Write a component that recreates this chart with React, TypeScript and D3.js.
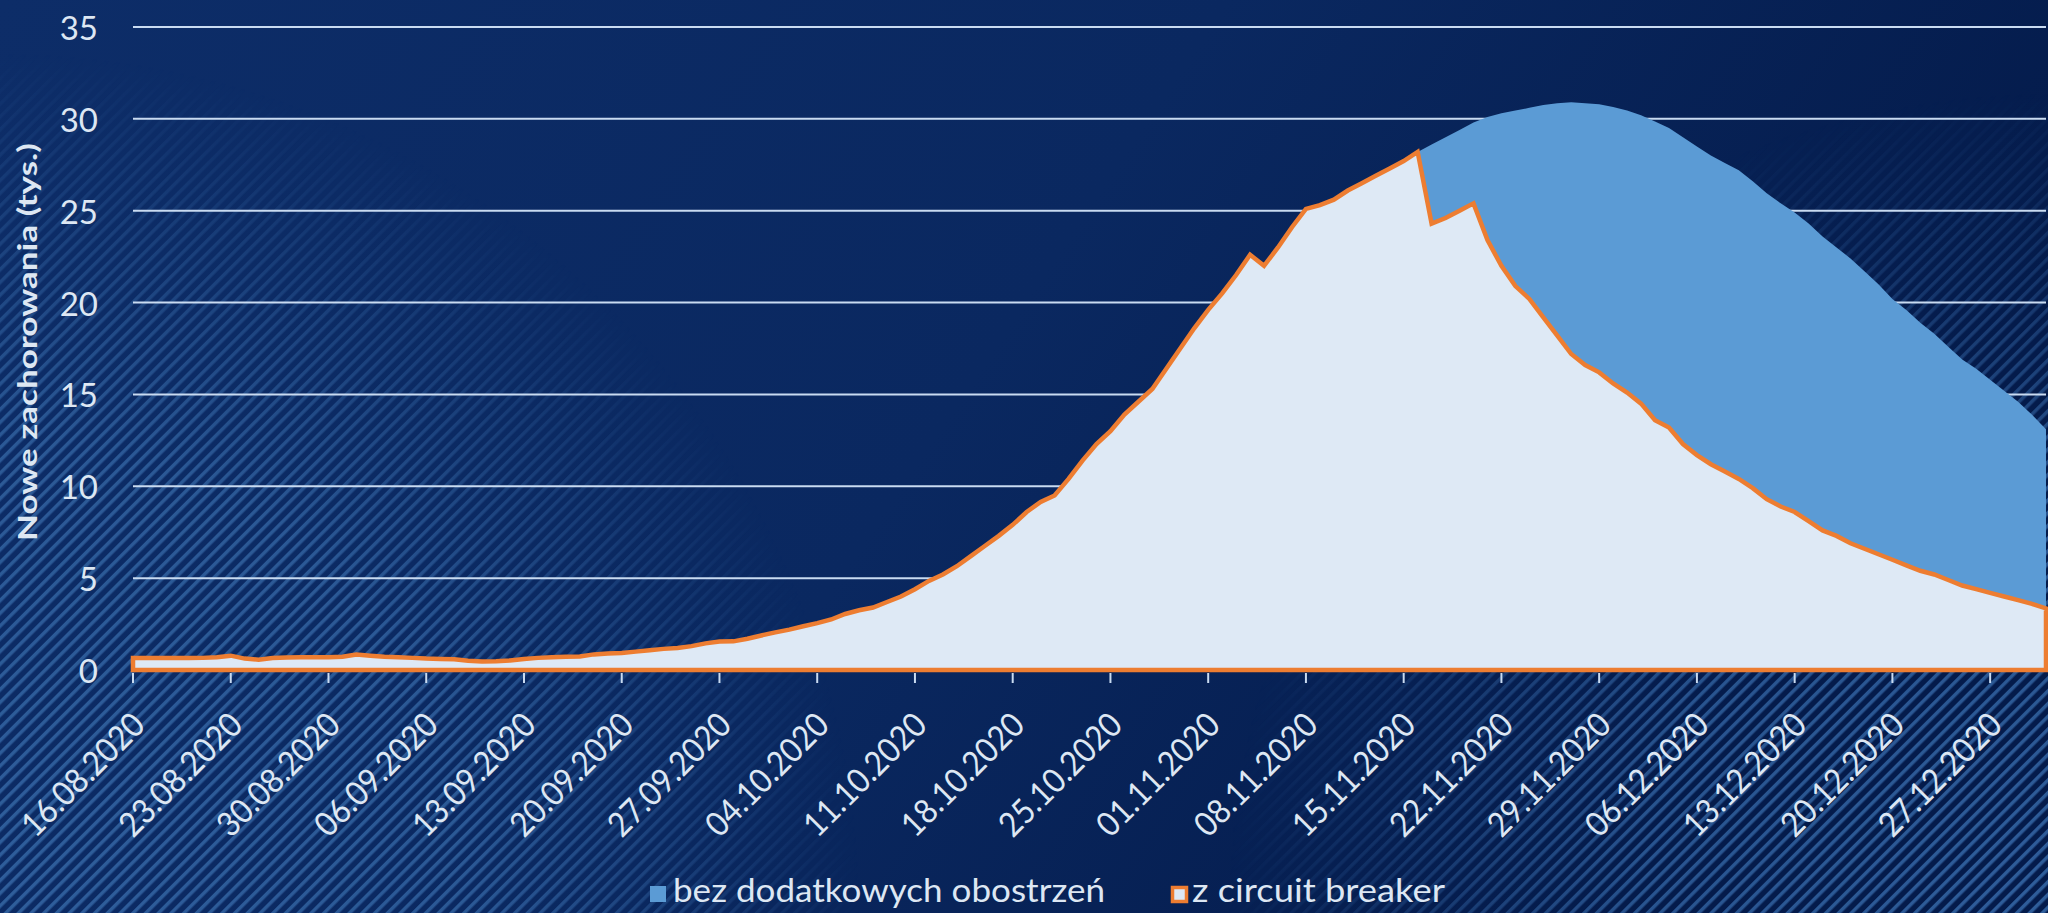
import React, { useEffect } from "react";
import * as d3 from "d3";

// ---------- DATA ----------
const START_DATE = "16.08.2020";
const END_DATE = "31.12.2020";

// z circuit breaker (tys.), daily from 16.08.2020 to 31.12.2020
const zCircuitBreaker = [
  0.65, 0.65, 0.65, 0.65, 0.65, 0.66, 0.7, 0.78, 0.62, 0.56,
  0.65, 0.68, 0.69, 0.69, 0.69, 0.72, 0.84, 0.78, 0.72, 0.7,
  0.66, 0.62, 0.6, 0.58, 0.5, 0.46, 0.47, 0.52, 0.6, 0.66,
  0.7, 0.72, 0.74, 0.85, 0.9, 0.93, 1.0, 1.07, 1.15, 1.2,
  1.3, 1.45, 1.55, 1.56, 1.7, 1.88, 2.05, 2.2, 2.38, 2.55,
  2.75, 3.05, 3.25, 3.4, 3.7, 4.0, 4.4, 4.85, 5.2, 5.65,
  6.2, 6.75, 7.3, 7.9, 8.6, 9.15, 9.5, 10.4, 11.4, 12.3,
  13.0, 13.9, 14.6, 15.3, 16.4, 17.5, 18.6, 19.6, 20.5, 21.5,
  22.6, 22.0, 23.0, 24.1, 25.1, 25.3, 25.6, 26.1, 26.5, 26.9,
  27.3, 27.7, 28.2, 24.3, 24.6, 25.0, 25.4, 23.4, 22.0, 20.9,
  20.2, 19.2, 18.2, 17.2, 16.6, 16.2, 15.6, 15.1, 14.5, 13.6,
  13.2, 12.3, 11.7, 11.2, 10.8, 10.4, 9.9, 9.3, 8.9, 8.6,
  8.1, 7.6, 7.3, 6.9, 6.6, 6.3, 6.0, 5.7, 5.4, 5.2,
  4.9, 4.6, 4.4, 4.2, 4.0, 3.8, 3.6, 3.35,
];

// bez dodatkowych obostrzeń (tys.)
const bezObostrzen = [
  0.65, 0.65, 0.65, 0.65, 0.65, 0.66, 0.7, 0.78, 0.62, 0.56,
  0.65, 0.68, 0.69, 0.69, 0.69, 0.72, 0.84, 0.78, 0.72, 0.7,
  0.66, 0.62, 0.6, 0.58, 0.5, 0.46, 0.47, 0.52, 0.6, 0.66,
  0.7, 0.72, 0.74, 0.85, 0.9, 0.93, 1.0, 1.07, 1.15, 1.2,
  1.3, 1.45, 1.55, 1.56, 1.7, 1.88, 2.05, 2.2, 2.38, 2.55,
  2.75, 3.05, 3.25, 3.4, 3.7, 4.0, 4.4, 4.85, 5.2, 5.65,
  6.2, 6.75, 7.3, 7.9, 8.6, 9.15, 9.5, 10.4, 11.4, 12.3,
  13.0, 13.9, 14.6, 15.3, 16.4, 17.5, 18.6, 19.6, 20.5, 21.5,
  22.6, 22.0, 23.0, 24.1, 25.1, 25.3, 25.6, 26.1, 26.5, 26.9,
  27.3, 27.7, 28.2, 28.6, 29.0, 29.4, 29.8, 30.1, 30.3, 30.45,
  30.6, 30.75, 30.85, 30.9, 30.85, 30.8, 30.65, 30.45, 30.2, 29.85,
  29.5, 29.0, 28.5, 28.0, 27.6, 27.2, 26.6, 25.95, 25.4, 24.9,
  24.3, 23.6, 23.0, 22.4, 21.7, 21.0, 20.2, 19.6, 18.9, 18.3,
  17.6, 16.9, 16.4, 15.8, 15.2, 14.6, 13.9, 13.1,
];

const yTickValues = [0, 5, 10, 15, 20, 25, 30, 35];
const xTickLabels = [
  "16.08.2020", "23.08.2020", "30.08.2020", "06.09.2020", "13.09.2020",
  "20.09.2020", "27.09.2020", "04.10.2020", "11.10.2020", "18.10.2020",
  "25.10.2020", "01.11.2020", "08.11.2020", "15.11.2020", "22.11.2020",
  "29.11.2020", "06.12.2020", "13.12.2020", "20.12.2020", "27.12.2020",
];
const seriesNames = ["bez dodatkowych obostrzeń", "z circuit breaker"];
const yAxisTitle = "Nowe zachorowania (tys.)";

// ---------- LAYOUT ----------
const W = 2048;
const H = 913;
const FONT = "Lato, 'Open Sans', sans-serif";
const TEXT = "#dde7f3";
const BLUE = "#5b9bd5";
const LIGHT = "#dee9f5";
const ORANGE = "#ed7d31";
const GRID = "#c9dbf1";

export default function App() {
  useEffect(() => {
    document.body.style.margin = "0";
    document.body.style.overflow = "hidden";
  }, []);

  const parse = d3.timeParse("%d.%m.%Y");
  const start = parse(START_DATE) as Date;
  const end = parse(END_DATE) as Date;
  const dates = zCircuitBreaker.map((_, i) => d3.timeDay.offset(start, i));

  const x = d3.scaleTime().domain([start, end]).range([133, 2046]);
  const y = d3.scaleLinear().domain([0, 35]).range([670, 27]);

  const area = d3
    .area<number>()
    .x((_, i) => x(dates[i]))
    .y0(y(0))
    .y1((v) => y(v))
    .curve(d3.curveLinear);

  const bezPath = area(bezObostrzen) || "";
  const zPath = area(zCircuitBreaker) || "";

  const tickDates = xTickLabels.map((s) => parse(s) as Date);

  return (
    <svg
      width={W}
      height={H}
      viewBox={`0 0 ${W} ${H}`}
      style={{ position: "absolute", left: 0, top: 0, display: "block" }}
    >
      <defs>
        <linearGradient id="bg" x1="0" y1="0" x2="1" y2="0.3">
          <stop offset="0" stopColor="#0d2d68" />
          <stop offset="0.55" stopColor="#0a2860" />
          <stop offset="1" stopColor="#041b4b" />
        </linearGradient>
        <pattern
          id="hatch"
          width="9"
          height="9"
          patternUnits="userSpaceOnUse"
          patternTransform="rotate(45)"
        >
          <rect x="0" y="0" width="3.5" height="9" fill="#2f5e9b" />
        </pattern>
        <radialGradient id="fadeL" gradientUnits="userSpaceOnUse" cx="0" cy="913" r="860">
          <stop offset="0" stopColor="#fff" stopOpacity="1" />
          <stop offset="0.55" stopColor="#fff" stopOpacity="0.9" />
          <stop offset="1" stopColor="#fff" stopOpacity="0" />
        </radialGradient>
        <radialGradient id="fadeR" gradientUnits="userSpaceOnUse" cx="2048" cy="913" r="820">
          <stop offset="0" stopColor="#fff" stopOpacity="1" />
          <stop offset="0.5" stopColor="#fff" stopOpacity="0.85" />
          <stop offset="1" stopColor="#fff" stopOpacity="0" />
        </radialGradient>
        <mask id="hatchMask">
          <rect x="0" y="0" width={W} height={H} fill="url(#fadeL)" />
          <rect x="0" y="0" width={W} height={H} fill="url(#fadeR)" />
        </mask>
      </defs>

      {/* background */}
      <rect x="0" y="0" width={W} height={H} fill="url(#bg)" />
      <rect x="0" y="0" width={W} height={H} fill="url(#hatch)" mask="url(#hatchMask)" />

      {/* gridlines */}
      {yTickValues
        .filter((v) => v > 0)
        .map((v) => (
          <line
            key={v}
            x1={133}
            x2={2046}
            y1={y(v)}
            y2={y(v)}
            stroke={GRID}
            strokeWidth={2}
          />
        ))}

      {/* y tick labels */}
      {yTickValues.map((v) => (
        <text
          key={v}
          x={98}
          y={y(v)}
          textAnchor="end"
          dominantBaseline="central"
          fill={TEXT}
          fontFamily={FONT}
          fontSize={33}
        >
          {v}
        </text>
      ))}

      {/* y axis title */}
      <text
        transform={`translate(37, 342) rotate(-90)`}
        textAnchor="middle"
        fill={TEXT}
        fontFamily={FONT}
        fontWeight={700}
        fontSize={27}
        textLength={398}
        lengthAdjust="spacingAndGlyphs"
      >
        {yAxisTitle}
      </text>

      {/* areas */}
      <path d={bezPath} fill={BLUE} />
      <path
        d={zPath + "Z"}
        fill={LIGHT}
        stroke={ORANGE}
        strokeWidth={4.5}
        strokeLinejoin="miter"
      />

      {/* x ticks */}
      {tickDates.map((d, i) => (
        <line
          key={i}
          x1={x(d)}
          x2={x(d)}
          y1={673}
          y2={683}
          stroke={GRID}
          strokeWidth={2}
        />
      ))}

      {/* x tick labels */}
      {tickDates.map((d, i) => (
        <text
          key={i}
          transform={`translate(${x(d) + 14}, 727) rotate(-45)`}
          textAnchor="end"
          fill={TEXT}
          fontFamily={FONT}
          fontSize={34}
          textLength={158}
          lengthAdjust="spacingAndGlyphs"
        >
          {xTickLabels[i]}
        </text>
      ))}

      {/* legend */}
      <rect x={650} y={886} width={16} height={16} fill={BLUE} />
      <text
        x={673}
        y={902}
        fill={TEXT}
        fontFamily={FONT}
        fontSize={32}
        textLength={432}
        lengthAdjust="spacingAndGlyphs"
      >
        {seriesNames[0]}
      </text>
      <rect
        x={1172.5}
        y={887.5}
        width={14}
        height={14}
        fill={LIGHT}
        stroke={ORANGE}
        strokeWidth={3.5}
      />
      <text
        x={1192}
        y={902}
        fill={TEXT}
        fontFamily={FONT}
        fontSize={32}
        textLength={253}
        lengthAdjust="spacingAndGlyphs"
      >
        {seriesNames[1]}
      </text>
    </svg>
  );
}
